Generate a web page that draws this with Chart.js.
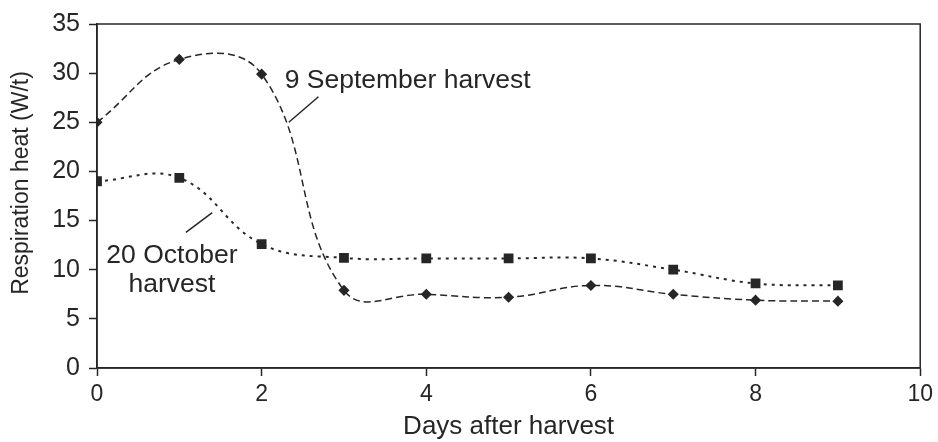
<!DOCTYPE html>
<html>
<head>
<meta charset="utf-8">
<script src="https://cdn.jsdelivr.net/npm/chart.js@4.4.1/dist/chart.umd.min.js"></script>
<style>
    html, body { margin: 0; padding: 0; background: #fff; }
    #wrap { width: 938px; height: 442px; }
</style>
</head>
<body>
<div id="wrap"><canvas id="chart"></canvas></div>
<script>
const days = [0, 1, 2, 3, 4, 5, 6, 7, 8, 9];
const september = [25.0, 31.4, 29.9, 7.9, 7.5, 7.2, 8.4, 7.5, 6.9, 6.8];
const october = [19.0, 19.35, 12.6, 11.2, 11.15, 11.15, 11.15, 10.0, 8.6, 8.4];
const xTicks = [0, 2, 4, 6, 8, 10];
const yTicks = [0, 5, 10, 15, 20, 25, 30, 35];

// labels on the plot, in data units
const notes = [
    { text: "9 September harvest", x: 2.28, y: 28.5, align: "left" },
    { text: "20 October", x: 0.91, y: 10.7, align: "center" },
    { text: "harvest", x: 0.91, y: 7.7, align: "center" },
];
const leaders = [
    [2.69, 27.6, 2.33, 25.0],
    [1.40, 15.8, 1.08, 13.8],
];

const INK = "#262626";
const FONT = "'Liberation Sans', Arial, Helvetica, sans-serif";

const toPoints = (ys) => days.map((d, i) => ({ x: d, y: ys[i] }));

const decorations = {
    id: "decorations",
    afterDraw(chart) {
        const { ctx, chartArea: a, scales } = chart;
        const sx = scales.x, sy = scales.y;
        ctx.save();
        ctx.strokeStyle = INK;
        ctx.lineWidth = 1.5;
        ctx.strokeRect(a.left, a.top, a.right - a.left, a.bottom - a.top);

        leaders.forEach(([x1, y1, x2, y2]) => {
            ctx.beginPath();
            ctx.moveTo(sx.getPixelForValue(x1), sy.getPixelForValue(y1));
            ctx.lineTo(sx.getPixelForValue(x2), sy.getPixelForValue(y2));
            ctx.stroke();
        });

        ctx.fillStyle = INK;
        ctx.font = "26.5px " + FONT;
        ctx.textBaseline = "alphabetic";
        notes.forEach((n) => {
            ctx.textAlign = n.align;
            ctx.fillText(n.text, sx.getPixelForValue(n.x), sy.getPixelForValue(n.y));
        });

        // y axis title
        ctx.translate(22, 183);
        ctx.rotate(-Math.PI / 2);
        ctx.font = "23px " + FONT;
        ctx.textAlign = "center";
        ctx.textBaseline = "middle";
        ctx.fillText("Respiration heat (W/t)", 0, 0);
        ctx.restore();
    },
};

new Chart(document.getElementById("chart"), {
    type: "line",
    data: {
        datasets: [
            {
                label: "9 September harvest",
                data: toPoints(september),
                borderColor: INK,
                backgroundColor: INK,
                borderWidth: 1.5,
                borderDash: [7, 4],
                pointStyle: "rectRot",
                pointRadius: 4.5,
                tension: 0.42,
            },
            {
                label: "20 October harvest",
                data: toPoints(october),
                borderColor: INK,
                backgroundColor: INK,
                borderWidth: 2,
                borderDash: [3, 5],
                pointStyle: "rect",
                pointRadius: 5.5,
                tension: 0.4,
            },
        ],
    },
    options: {
        responsive: true,
        maintainAspectRatio: false,
        animation: false,
        layout: { padding: { top: 22, right: 15, left: 0, bottom: 0 } },
        plugins: {
            legend: { display: false },
            tooltip: { enabled: false },
        },
        scales: {
            x: {
                type: "linear",
                min: 0,
                max: 10,
                afterFit: (s) => { s.height = 74; },
                afterBuildTicks: (s) => { s.ticks = xTicks.map((v) => ({ value: v })); },
                grid: { drawOnChartArea: false, tickLength: 8, tickColor: INK, tickWidth: 1.5 },
                border: { color: INK, width: 1.5 },
                ticks: { color: INK, font: { family: FONT, size: 23 }, padding: 5, maxRotation: 0 },
                title: {
                    display: true,
                    text: "Days after harvest",
                    color: INK,
                    font: { family: FONT, size: 26 },
                    padding: { top: 0, bottom: 0 },
                },
            },
            y: {
                min: 0,
                max: 35,
                afterFit: (s) => { s.width = 97; },
                afterBuildTicks: (s) => { s.ticks = yTicks.map((v) => ({ value: v })); },
                grid: { drawOnChartArea: false, tickLength: 8, tickColor: INK, tickWidth: 1.5 },
                border: { color: INK, width: 1.5 },
                ticks: { color: INK, font: { family: FONT, size: 25 }, padding: 9 },
            },
        },
    },
    plugins: [decorations],
});
</script>
</body>
</html>
